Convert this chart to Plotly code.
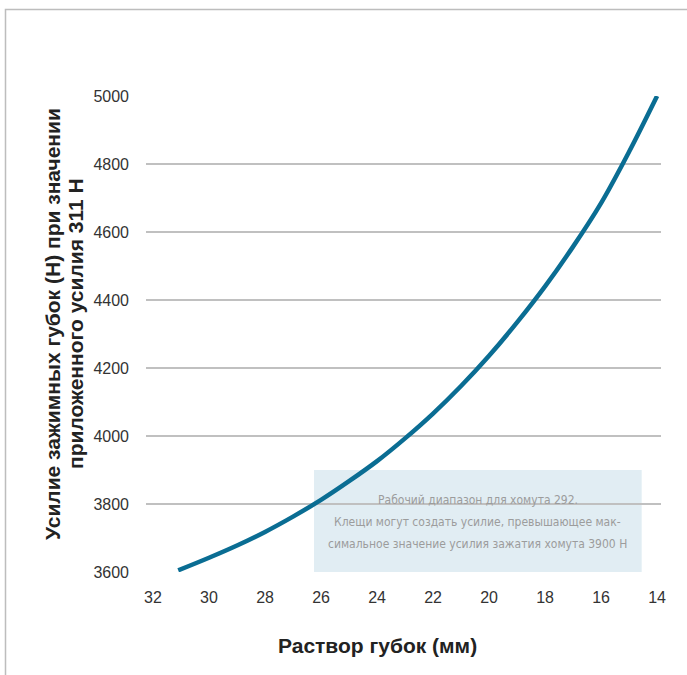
import plotly.graph_objects as go

# Data
jaw_opening_mm = [31.1, 30, 29, 28, 27, 26, 25, 24, 23, 22, 21, 20, 19, 18, 17, 16, 15, 14]
clamp_force_n = [3605, 3642, 3678, 3718, 3763, 3812, 3867, 3926, 3993, 4066, 4147, 4236, 4334, 4440, 4557, 4685, 4836, 5000]

x_ticks = [32, 30, 28, 26, 24, 22, 20, 18, 16, 14]
y_ticks = [3600, 3800, 4000, 4200, 4400, 4600, 4800, 5000]

range_x = [26.25, 14.55]
range_y = [3600, 3900]

box_lines = ["Рабочий диапазон для хомута 292.",
             "Клещи могут создать усилие, превышающее мак-",
             "симальное значение усилия зажатия хомута 3900 Н"]
x_title = "Раствор губок (мм)"
y_title_lines = ["Усилие зажимных губок (Н) при значении", "приложенного усилия 311 Н"]

W, H = 687, 675
L, R, T, B = 146, 26, 96, 103
pw, ph = W - L - R, H - T - B


def px_x(p):
    return (p - L) / pw


def px_y(p):
    return (H - B - p) / ph


fig = go.Figure()
fig.add_trace(go.Scatter(
    x=jaw_opening_mm, y=clamp_force_n, mode="lines",
    line=dict(color="#0A6D93", width=4.5, shape="spline", smoothing=1.0),
    cliponaxis=False, showlegend=False, hoverinfo="x+y"))

# shaded working range box
fig.add_shape(type="rect", xref="x", yref="y",
              x0=range_x[0], x1=range_x[1], y0=range_y[0], y1=range_y[1],
              fillcolor="#E1EDF3", line=dict(width=0), layer="below")
for i, line in enumerate(box_lines):
    fig.add_annotation(x=(range_x[0] + range_x[1]) / 2, y=px_y(500 + 22 * i),
                       xref="x", yref="paper", text=line, showarrow=False,
                       xanchor="center", yanchor="middle",
                       font=dict(family="DejaVu Sans Condensed, Liberation Sans, Arial, sans-serif",
                                 size=12, color="#9C9C9C"))

# outer frame (partially visible)
fig.add_shape(type="path", xref="paper", yref="paper",
              path=f"M {px_x(5.5)} {px_y(720)} L {px_x(5.5)} {px_y(9.5)} L {px_x(720)} {px_y(9.5)}",
              line=dict(color="#BDBDBD", width=1.5))

title_font = dict(family="Liberation Sans, Arial, sans-serif", size=21, color="#222222")
fig.add_annotation(xref="paper", yref="paper", x=px_x(377), y=px_y(645),
                   xanchor="center", yanchor="middle",
                   text="<b>" + x_title + "</b>", showarrow=False, font=title_font)
for cx, line in zip([52, 75], y_title_lines):
    fig.add_annotation(xref="paper", yref="paper", x=px_x(cx), y=px_y(324),
                       xanchor="center", yanchor="middle",
                       text="<b>" + line + "</b>", showarrow=False, textangle=-90,
                       font=title_font)

fig.update_layout(
    width=W, height=H,
    margin=dict(l=L, r=R, t=T, b=B),
    paper_bgcolor="white", plot_bgcolor="white",
    font=dict(family="Liberation Sans, Arial, sans-serif", size=16, color="#333333"),
    xaxis=dict(range=[32.25, 13.86], tickvals=x_ticks, showgrid=False, zeroline=False,
               showline=False, ticks="", ticklen=0, ticklabelstandoff=14,
               tickfont=dict(size=16, color="#333333")),
    yaxis=dict(range=[3600, 5000], tickvals=y_ticks, showgrid=True, gridcolor="#C0C0C0",
               gridwidth=1.5, zeroline=False, showline=False, ticks="",
               ticklabelstandoff=16, tickfont=dict(size=16, color="#333333")),
)

fig.write_html("out.html", config={"displayModeBar": False})

# remove default page margin so the figure sits at the window origin
with open("out.html", encoding="utf-8") as f:
    html = f.read()
html = html.replace("<head>", "<head><style>html,body{margin:0;padding:0;overflow:hidden;}</style>", 1)
with open("out.html", "w", encoding="utf-8") as f:
    f.write(html)
